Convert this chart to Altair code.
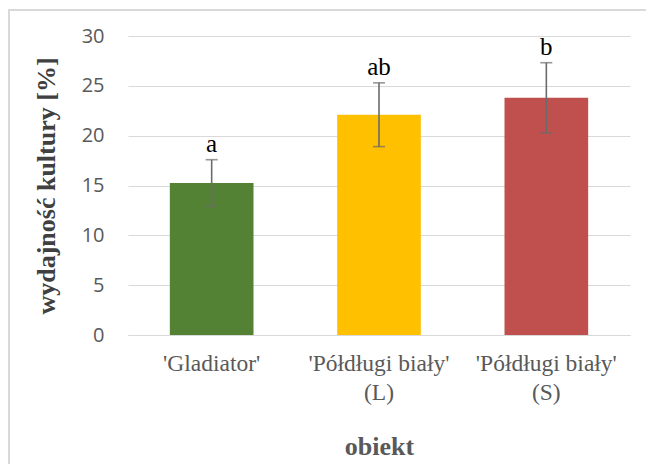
import altair as alt
import pandas as pd

categories = ["'Gladiator'", "'Półdługi biały'|(L)", "'Półdługi biały'|(S)"]
means = [15.25, 22.1, 23.8]
errors = [2.34, 3.2, 3.52]
letters = ["a", "ab", "b"]
colors = ["#548235", "#FFC000", "#C0504D"]
y_ticks = [0, 5, 10, 15, 20, 25, 30]

df = pd.DataFrame({
    "cat": categories,
    "mean": means,
    "lo": [m - e for m, e in zip(means, errors)],
    "hi": [m + e for m, e in zip(means, errors)],
    "letter": letters,
})

W, H = 502, 299

x = alt.X(
    "cat:N", sort=categories,
    scale=alt.Scale(paddingInner=0.5, paddingOuter=0.25),
    axis=alt.Axis(
        title="obiekt", labelExpr="split(datum.label, '|')", labelAngle=0,
        labelFont="Liberation Serif", labelFontSize=23.5, labelColor="#595959",
        labelLineHeight=29, labelPadding=16,
        titleFont="Liberation Serif", titleFontSize=26, titleFontWeight="bold",
        titleColor="#595959", titlePadding=30,
        domain=True, domainColor="#d9d9d9", domainWidth=1.2, ticks=False, grid=False,
    ),
)
y_scale = alt.Scale(domain=[0, 30], nice=False)

bars = alt.Chart(df).mark_bar().encode(
    x=x,
    y=alt.Y(
        "mean:Q", scale=y_scale,
        axis=alt.Axis(
            title="wydajność kultury [%]", values=y_ticks,
            labelFont="Open Sans", labelFontSize=20, labelColor="#595959",
            labelPadding=24,
            titleFont="Liberation Serif", titleFontSize=26, titleFontWeight="bold",
            titleColor="#404040", titlePadding=22,
            domain=False, ticks=False, grid=True, gridColor="#d9d9d9", gridWidth=1.2,
        ),
    ),
    color=alt.Color("cat:N", scale=alt.Scale(domain=categories, range=colors), legend=None),
)

rule = alt.Chart(df).mark_rule(color="#6b6b6b", strokeWidth=1.6).encode(
    x=alt.X("cat:N", sort=categories), y=alt.Y("lo:Q", scale=y_scale), y2="hi:Q"
)
cap_lo = alt.Chart(df).mark_tick(color="#6b6b6b", thickness=1.6, size=12, orient="horizontal").encode(
    x=alt.X("cat:N", sort=categories), y=alt.Y("lo:Q", scale=y_scale)
)
cap_hi = alt.Chart(df).mark_tick(color="#6b6b6b", thickness=1.6, size=12, orient="horizontal").encode(
    x=alt.X("cat:N", sort=categories), y=alt.Y("hi:Q", scale=y_scale)
)
text = alt.Chart(df).mark_text(
    font="Liberation Serif", fontSize=25, color="#000000", baseline="bottom", dy=-3
).encode(x=alt.X("cat:N", sort=categories), y=alt.Y("hi:Q", scale=y_scale), text="letter:N")

border = alt.Chart(pd.DataFrame({"k": [0]})).mark_rect(
    fill="white", fillOpacity=0, stroke="#d9d9d9", strokeWidth=2
).encode(
    x=alt.value(-119), x2=alt.value(W + 60), y=alt.value(-26), y2=alt.value(H + 200)
)

chart = alt.layer(border, bars, rule, cap_lo, cap_hi, text).properties(
    width=W, height=H,
    autosize=alt.AutoSizeParams(type="none"),
    padding={"left": 120, "top": 28, "right": 16, "bottom": 129},
    background="white",
).configure_view(stroke=None)

chart.save("out.html", embed_options={"renderer": "svg", "actions": False})
